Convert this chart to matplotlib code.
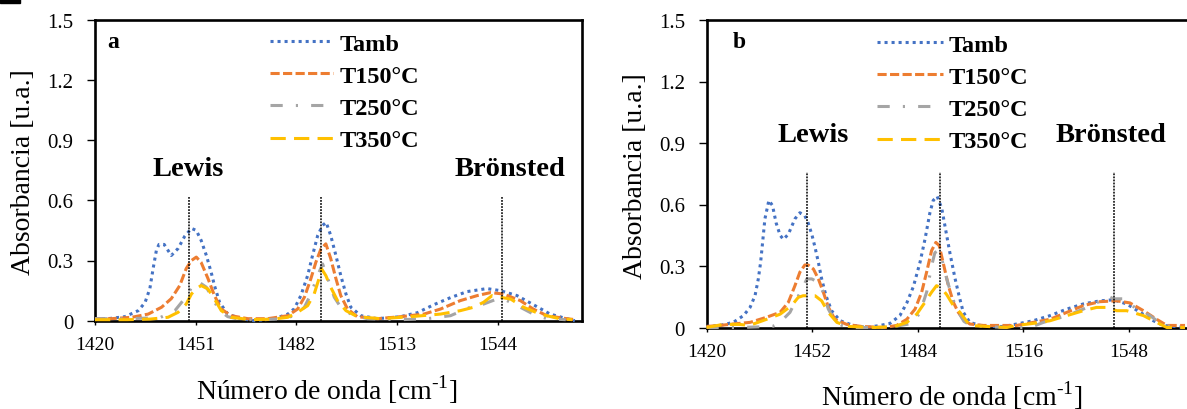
import matplotlib
matplotlib.use("Agg")
import matplotlib.pyplot as plt
from matplotlib.patches import Rectangle

plt.rcParams['font.family'] = ['Liberation Serif', 'DejaVu Serif']
plt.rcParams['mathtext.fontset'] = 'custom'
plt.rcParams['mathtext.rm'] = 'Liberation Serif'

# ---------------- data ----------------
series_names = ["Tamb", "T150°C", "T250°C", "T350°C"]
y_ticks = [0, 0.3, 0.6, 0.9, 1.2, 1.5]
y_tick_labels = ["0", "0.3", "0.6", "0.9", "1.2", "1.5"]
a_x_ticks = [1420, 1451, 1482, 1513, 1544]
b_x_ticks = [1420, 1452, 1484, 1516, 1548]
a_markers = [1449, 1489.5, 1545.5]
b_markers = [1450.5, 1490.7, 1543.6]

# panel a
a_x_tamb = [1420, 1424, 1429.2, 1433.3, 1435.4, 1436.9, 1437.9, 1438.9, 1439.7, 1441.3, 1443.5, 1445.6,
            1447.6, 1449.7, 1451.2, 1452.7, 1454.3, 1455.8, 1456.8, 1458.4, 1460.9, 1465, 1469.1, 1475.2,
            1479.4, 1481.4, 1483.4, 1485.5, 1487, 1488.6, 1490.1, 1491.2, 1492.6, 1494.2, 1495.7, 1497.3,
            1498.8, 1501.9, 1507, 1514.1, 1519.3, 1524.4, 1529.5, 1534.6, 1540.7, 1544.8, 1550, 1555,
            1560.2, 1565.3, 1567.8]
a_y_tamb = [0.01, 0.01, 0.02, 0.05, 0.09, 0.16, 0.26, 0.35, 0.38, 0.38, 0.325, 0.36,
            0.42, 0.46, 0.45, 0.40, 0.325, 0.24, 0.175, 0.09, 0.033, 0.01, 0.0, 0.01,
            0.033, 0.06, 0.125, 0.225, 0.325, 0.425, 0.475, 0.49, 0.425, 0.325, 0.225, 0.133,
            0.067, 0.025, 0.01, 0.02, 0.04, 0.08, 0.115, 0.145, 0.16, 0.15, 0.125, 0.08,
            0.033, 0.01, 0.0]
a_x_t150 = [1420, 1425, 1431.3, 1436.4, 1440.5, 1443.5, 1446.1, 1448.1, 1449.7, 1451.2, 1452.7, 1454.8,
            1456.8, 1458.9, 1461.9, 1467.1, 1473.2, 1479.4, 1482.4, 1484.5, 1486.5, 1488, 1489.6, 1491.1,
            1492.6, 1494.2, 1495.7, 1497.8, 1500.8, 1507, 1514.1, 1521.3, 1526.4, 1532.5, 1537.7, 1541.8,
            1545.8, 1551, 1555, 1559.2, 1565.3, 1568]
a_y_t150 = [0.01, 0.01, 0.017, 0.033, 0.067, 0.11, 0.175, 0.26, 0.30, 0.317, 0.29, 0.21,
            0.125, 0.058, 0.025, 0.01, 0.01, 0.025, 0.058, 0.117, 0.21, 0.29, 0.358, 0.383,
            0.31, 0.21, 0.125, 0.058, 0.02, 0.01, 0.02, 0.033, 0.058, 0.10, 0.125, 0.14,
            0.133, 0.10, 0.058, 0.025, 0.01, 0.005]
a_x_t250 = [1420, 1430, 1440, 1444.6, 1446.6, 1448.7, 1450.2, 1452.2, 1454.3, 1456.3, 1458.4, 1460.9,
            1465, 1472, 1478, 1481.4, 1484.5, 1486.5, 1488.6, 1490.1, 1491.7, 1493.7, 1495.7, 1498.8,
            1503.9, 1514, 1522.3, 1529.5, 1535.6, 1539.7, 1543.8, 1546.9, 1551, 1555, 1559.2, 1565]
a_y_t250 = [0.01, 0.01, 0.015, 0.05, 0.09, 0.133, 0.183, 0.19, 0.167, 0.108, 0.05, 0.02,
            0.005, 0.005, 0.01, 0.025, 0.067, 0.133, 0.225, 0.283, 0.21, 0.117, 0.067, 0.033,
            0.01, 0.005, 0.01, 0.025, 0.067, 0.083, 0.108, 0.10, 0.067, 0.033, 0.01, 0.005]
a_x_t350 = [1420, 1430, 1437, 1442.5, 1445.6, 1448.1, 1449.7, 1451.2, 1452.7, 1454.8, 1456.8, 1458.9,
            1461.9, 1468, 1475, 1479.4, 1482.4, 1485.5, 1487.5, 1489, 1489.8, 1491.1, 1492.6, 1494.7,
            1497.3, 1500.8, 1508, 1517.2, 1526.4, 1532.5, 1536.6, 1539.7, 1542.3, 1544.8, 1548, 1552,
            1557.1, 1563, 1567]
a_y_t350 = [0.005, 0.005, 0.008, 0.017, 0.042, 0.083, 0.133, 0.16, 0.175, 0.158, 0.108, 0.05,
            0.017, 0.005, 0.008, 0.017, 0.042, 0.075, 0.133, 0.21, 0.258, 0.225, 0.167, 0.10,
            0.05, 0.02, 0.01, 0.02, 0.033, 0.05, 0.067, 0.092, 0.125, 0.117, 0.108, 0.067,
            0.033, 0.01, 0.005]

# panel b
b_x_tamb = [1420, 1424.1, 1428.1, 1431.2, 1433.2, 1434.7, 1435.7, 1436.4, 1437, 1437.7, 1438.9, 1440,
            1441.1, 1442.3, 1443.3, 1444.8, 1446.8, 1448.3, 1449.8, 1450.8, 1451.9, 1452.9, 1453.9, 1454.9,
            1456.2, 1457.9, 1460.5, 1464.5, 1468.5, 1472.6, 1475.6, 1478.6, 1480.7, 1482.7, 1484.7, 1486.2,
            1487.7, 1488.7, 1489.9, 1491.3, 1492.6, 1493.8, 1495.3, 1496.6, 1497.8, 1499.8, 1504, 1510,
            1514, 1519, 1524.1, 1529.2, 1534.2, 1539.2, 1543.3, 1547.3, 1551.4, 1555.4, 1558.4, 1565]
b_y_tamb = [0.005, 0.01, 0.025, 0.058, 0.098, 0.155, 0.237, 0.318, 0.415, 0.53, 0.62, 0.595,
            0.51, 0.45, 0.43, 0.455, 0.53, 0.56, 0.545, 0.51, 0.455, 0.39, 0.318, 0.237,
            0.155, 0.082, 0.033, 0.01, 0.0, 0.01, 0.02, 0.058, 0.12, 0.2, 0.318, 0.43,
            0.56, 0.62, 0.64, 0.58, 0.465, 0.36, 0.24, 0.15, 0.075, 0.025, 0.005, 0.005,
            0.017, 0.033, 0.058, 0.09, 0.115, 0.13, 0.135, 0.115, 0.074, 0.033, 0.01, 0.0]
b_x_t150 = [1420, 1424, 1428, 1433.2, 1438.2, 1442.3, 1444.8, 1446.8, 1448.3, 1449.8, 1450.8, 1452.4,
            1453.9, 1455.4, 1456.9, 1458.9, 1462.5, 1467, 1474, 1477.6, 1480.7, 1483.2, 1485.2, 1486.7,
            1488.2, 1489.5, 1490.5, 1491.8, 1493.3, 1494.8, 1496.3, 1497.8, 1499.8, 1503.9, 1514, 1519,
            1524.1, 1529.2, 1534.2, 1539.2, 1544.3, 1548.3, 1552.4, 1556.4, 1559.5, 1565]
b_y_t150 = [0.005, 0.01, 0.017, 0.025, 0.05, 0.074, 0.123, 0.204, 0.27, 0.305, 0.305, 0.285,
            0.237, 0.172, 0.10, 0.04, 0.015, 0.005, 0.0, 0.01, 0.04, 0.09, 0.172, 0.27,
            0.375, 0.415, 0.40, 0.31, 0.204, 0.123, 0.074, 0.04, 0.017, 0.01, 0.01, 0.025,
            0.04, 0.074, 0.107, 0.126, 0.13, 0.12, 0.082, 0.04, 0.01, 0.01]
b_x_t250 = [1420, 1430, 1440, 1442, 1445.3, 1447.3, 1448.8, 1450.4, 1451.9, 1453.9, 1455.4, 1456.9,
            1458.9, 1461, 1465, 1475, 1482.5, 1484.7, 1486.7, 1488.2, 1489.2, 1490.2, 1491.3, 1492.8,
            1494.3, 1495.8, 1498, 1500, 1510, 1518, 1522.1, 1529.2, 1534.2, 1538.2, 1541.8, 1543.3,
            1546.3, 1550.4, 1554.4, 1558.4, 1565]
b_y_t250 = [0.0, 0.0, 0.005, 0.02, 0.074, 0.14, 0.18, 0.237, 0.237, 0.22, 0.172, 0.09,
            0.033, 0.01, 0.0, 0.0, 0.02, 0.074, 0.172, 0.30, 0.365, 0.375, 0.335, 0.237,
            0.155, 0.09, 0.03, 0.01, 0.0, 0.0, 0.025, 0.058, 0.09, 0.12, 0.152, 0.14,
            0.14, 0.09, 0.058, 0.01, 0.0]
b_x_t350 = [1420, 1425, 1430, 1433, 1438.2, 1442.3, 1445.8, 1447.8, 1449.3, 1452.9, 1454.9, 1456.9,
            1459.5, 1463, 1471, 1477, 1480.7, 1483.7, 1486.2, 1488.2, 1489.7, 1491.3, 1492.8, 1494.8,
            1496.8, 1499.8, 1505, 1511, 1514, 1519, 1524.1, 1529.2, 1534.2, 1538.2, 1541.3, 1544.3,
            1547.3, 1552.4, 1556.4, 1559.5, 1565]
b_y_t350 = [0.0, 0.015, 0.015, 0.01, 0.04, 0.065, 0.107, 0.147, 0.155, 0.155, 0.13, 0.074,
            0.025, 0.005, 0.0, 0.005, 0.025, 0.065, 0.123, 0.172, 0.204, 0.19, 0.16, 0.107,
            0.074, 0.01, 0.005, 0.0, 0.01, 0.02, 0.033, 0.058, 0.082, 0.098, 0.098, 0.082,
            0.082, 0.058, 0.025, 0.0, 0.0]

# ---------------- styles ----------------
colors = ["#4472C4", "#ED7D31", "#A5A5A5", "#FFC000"]
styles = [(0, (1, 1.3)), (0, (3, 1.1)), (0, (4, 4.3, 0.7, 4.3)), (0, (5, 2.7))]
LW = 2.2

W, H = 1187, 410
fig = plt.figure(figsize=(W / 100, H / 100), dpi=100)
fig.patches.append(Rectangle((0, 1 - 4 / H), 20 / W, 4 / H, transform=fig.transFigure,
                             color="black", zorder=10))

ax_a = fig.add_axes([95 / W, 1 - 321.7 / H, (582 - 95) / W, (321.7 - 20.7) / H])
ax_b = fig.add_axes([706.5 / W, 1 - 328.5 / H, (W - 706.5) / W, (328.5 - 21) / H])

panels = [
    dict(ax=ax_a, xs=[a_x_tamb, a_x_t150, a_x_t250, a_x_t350], ys=[a_y_tamb, a_y_t150, a_y_t250, a_y_t350],
         xlim=(1420, 1570), xticks=a_x_ticks, markers=a_markers, mtop=0.617, tag="a", tagpos=(1423.7, 1.39),
         lewis=(1448.6, 0.76), bron=(1547.7, 0.76), leg=(0.359, 0.9575), hl=2.6),
    dict(ax=ax_b, xs=[b_x_tamb, b_x_t150, b_x_t250, b_x_t350], ys=[b_y_tamb, b_y_t150, b_y_t250, b_y_t350],
         xlim=(1420, 1565.6), xticks=b_x_ticks, markers=b_markers, mtop=0.76, tag="b", tagpos=(1428, 1.395),
         lewis=(1452.3, 0.94), bron=(1542.6, 0.94), leg=(0.355, 0.956), hl=2.7),
]

bold_leg = dict(family="Liberation Serif", weight="bold", size=17.5)
bold_ann = dict(family="Liberation Serif", weight="bold", size=20.5)
bold_tag = dict(family="Liberation Serif", weight="bold", size=17)

for p in panels:
    ax = p["ax"]
    handles = []
    for xs, ys, c, ls, name in zip(p["xs"], p["ys"], colors, styles, series_names):
        ln, = ax.plot(xs, ys, color=c, linestyle=ls, linewidth=LW, label=name, clip_on=False, zorder=3)
        handles.append(ln)
    for m in p["markers"]:
        ax.plot([m, m], [0, p["mtop"]], color="black", linewidth=1.1, linestyle=(0, (1.2, 0.8)), zorder=4)
    ax.set_xlim(*p["xlim"])
    ax.set_ylim(0, 1.5)
    ax.set_xticks(p["xticks"])
    ax.set_xticklabels([str(t) for t in p["xticks"]])
    ax.set_yticks(y_ticks)
    ax.set_yticklabels(y_tick_labels)
    ax.tick_params(axis="y", direction="out", length=5.5, width=1.0, pad=10, labelsize=15)
    ax.tick_params(axis="x", direction="out", length=3, width=1.0, pad=8, labelsize=14)
    for s in ax.spines.values():
        s.set_linewidth(1.9)
        s.set_color("black")
    ax.text(p["tagpos"][0], p["tagpos"][1], p["tag"], ha="left", va="center", fontdict=bold_tag)
    ax.text(p["lewis"][0], p["lewis"][1], "Lewis", ha="center", va="center", fontdict=bold_ann)
    ax.text(p["bron"][0], p["bron"][1], "Brönsted", ha="center", va="center", fontdict=bold_ann)
    ax.legend(handles=handles, loc="upper left", bbox_to_anchor=p["leg"], frameon=False,
              prop=bold_leg, handlelength=p["hl"], handletextpad=0.25, labelspacing=0.42,
              borderpad=0, borderaxespad=0)

ax_b.spines["right"].set_visible(False)

xlabel = "Número de onda [cm$^{\\mathrm{\u2010}1}$]"
fig.text(327 / W, 1 - 390 / H, xlabel, ha="center", va="center", fontsize=20)
fig.text(952 / W, 1 - 396 / H, xlabel, ha="center", va="center", fontsize=20)
fig.text(24 / W, 1 - 172 / H, "Absorbancia [u.a.]", rotation=90, ha="center", va="center", fontsize=20)
fig.text(636 / W, 1 - 176 / H, "Absorbancia [u.a.]", rotation=90, ha="center", va="center", fontsize=20)

fig.savefig("out.png", dpi=100)
